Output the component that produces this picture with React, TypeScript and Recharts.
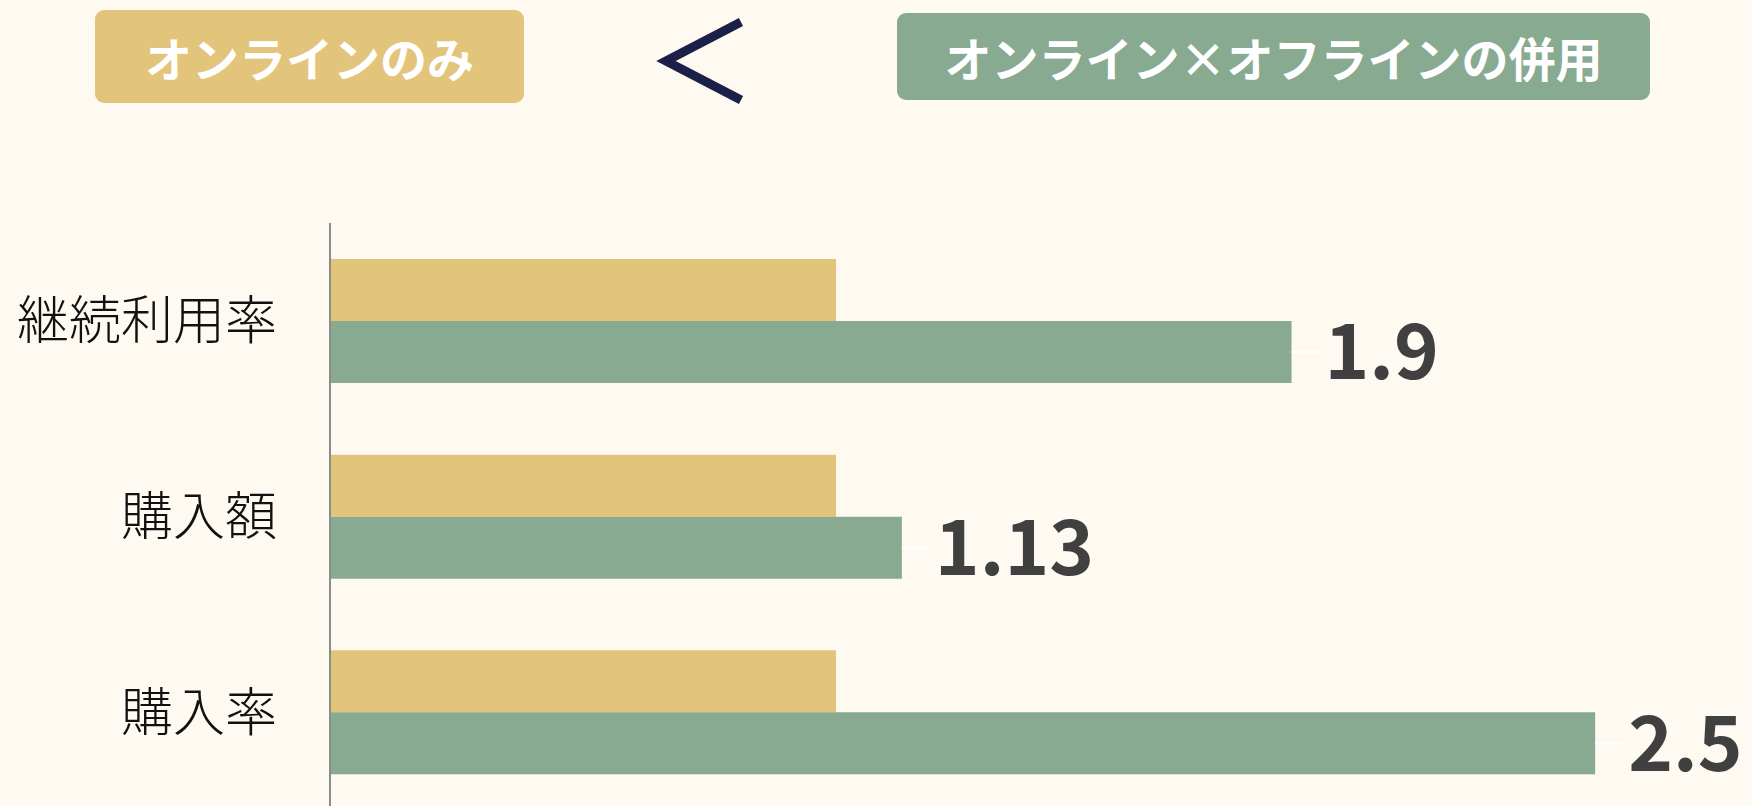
import { BarChart, Bar, XAxis, YAxis, LabelList } from 'recharts'

const categories = ['継続利用率', '購入額', '購入率']
const onlineOnly = [1, 1, 1]
const combined = [1.9, 1.13, 2.5]
const seriesNames = ['オンラインのみ', 'オンライン×オフラインの併用']

const data = categories.map((name, i) => ({ name, online: onlineOnly[i], combined: combined[i] }))

const BG = '#FFFAF1'
const GOLD = '#E3C47B'
const SAGE = '#88AA91'
const NAVY = '#1C2048'
const FONT = '"Noto Sans CJK JP", "Noto Sans", sans-serif'

// leader line + big value after the green bar
const ValueLabel = (props: any) => {
  const { x, y, width, height, value } = props
  const endX = x + width
  const cy = y + height / 2
  return (
    <g>
      <line x1={endX} y1={cy} x2={endX + 28} y2={cy} stroke="#fff" strokeWidth={2} />
      <text x={endX + 33} y={cy} dy="0.36em" fill="#404040" fontSize={76} fontWeight={700} fontFamily={FONT}>
        {value}
      </text>
    </g>
  )
}

const boxStyle = {
  position: 'absolute' as const,
  display: 'flex',
  alignItems: 'center',
  justifyContent: 'center',
  color: '#fff',
  fontSize: 47,
  fontWeight: 700,
  fontFamily: FONT,
  borderRadius: 9,
}

const App = () => {
  return (
    <div style={{ position: 'fixed', left: 0, top: 0, width: 1752, height: 806, overflow: 'hidden', background: BG }}>
      <div style={{ ...boxStyle, left: 95, top: 10, width: 429, height: 93, background: GOLD }}>{seriesNames[0]}</div>
      <svg style={{ position: 'absolute', left: 0, top: 0 }} width={1752} height={120}>
        <polyline points="741,22 666,61 741,100" fill="none" stroke={NAVY} strokeWidth={9} />
      </svg>
      <div style={{ ...boxStyle, left: 897, top: 13, width: 753, height: 87, background: SAGE }}>{seriesNames[1]}</div>

      <div style={{ position: 'absolute', left: 0, top: 0 }}>
        <BarChart
          width={1752}
          height={810}
          layout="vertical"
          data={data}
          margin={{ top: 223, right: 5, bottom: 0, left: 0 }}
          barGap={0}
          barCategoryGap={36}
        >
          <XAxis type="number" domain={[0, 2.8]} hide />
          <YAxis
            type="category"
            dataKey="name"
            width={330}
            axisLine={{ stroke: '#8c8c8c', strokeWidth: 2 }}
            tickLine={false}
            tickSize={0}
            tickMargin={53}
            tick={{ fill: '#111', fontSize: 52, fontWeight: 300, fontFamily: FONT }}
          />
          <Bar dataKey="online" name={seriesNames[0]} fill={GOLD} isAnimationActive={false} />
          <Bar dataKey="combined" name={seriesNames[1]} fill={SAGE} isAnimationActive={false}>
            <LabelList dataKey="combined" content={ValueLabel} />
          </Bar>
        </BarChart>
      </div>
    </div>
  )
}

export default App
